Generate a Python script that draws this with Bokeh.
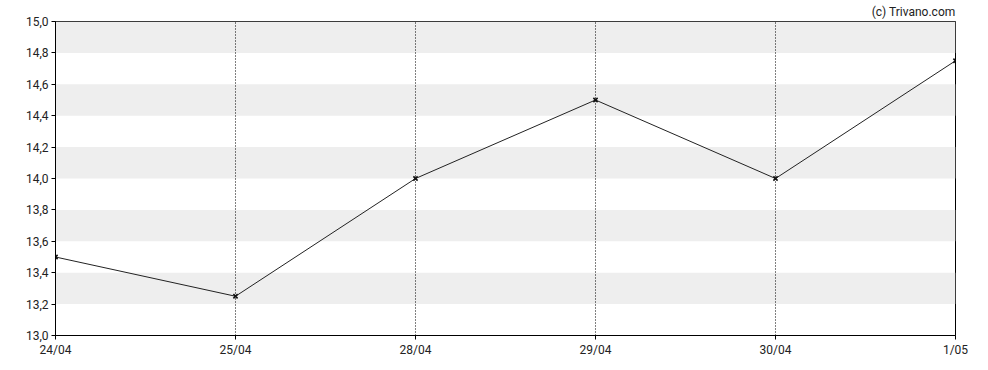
from bokeh.plotting import figure
from bokeh.models import FixedTicker, Range1d, Title
from bokeh.embed import file_html
from bokeh.resources import INLINE

categories = ["24/04", "25/04", "28/04", "29/04", "30/04", "1/05"]
values = [13.5, 13.25, 14.0, 14.5, 14.0, 14.75]
y_ticks = [13.0, 13.2, 13.4, 13.6, 13.8, 14.0, 14.2, 14.4, 14.6, 14.8, 15.0]
y_labels = ["13,0", "13,2", "13,4", "13,6", "13,8", "14,0", "14,2", "14,4", "14,6", "14,8", "15,0"]
credit = "(c) Trivano.com"

xs = list(range(len(categories)))

p = figure(width=988, height=370, output_backend="svg", toolbar_location=None,
           x_range=Range1d(0, len(categories) - 1), y_range=Range1d(13.0, 15.0),
           min_border_left=55, min_border_right=33, min_border_top=20, min_border_bottom=35)
p.background_fill_color = "white"
p.border_fill_color = "white"
p.outline_line_color = "black"
p.outline_line_width = 1

t = Title(text=credit, align="right", text_font="Roboto", text_font_size="12px",
          text_font_style="normal", text_color="#222222", standoff=5)
p.add_layout(t, "above")

# grids
p.ygrid.ticker = FixedTicker(ticks=y_ticks)
p.ygrid.grid_line_color = None
p.ygrid.band_fill_color = "#eeeeee"
p.ygrid.band_fill_alpha = 1.0
p.ygrid.level = "image"
p.xgrid.ticker = FixedTicker(ticks=xs)
p.xgrid.grid_line_color = "black"
p.xgrid.grid_line_dash = "1 2"
p.xgrid.grid_line_width = 1

# axes
for ax in (p.xaxis[0], p.yaxis[0]):
    ax.axis_line_color = "black"
    ax.major_tick_line_color = "black"
    ax.major_tick_out = 4
    ax.major_tick_in = 0
    ax.minor_tick_line_color = None
    ax.major_label_text_font = "Roboto"
    ax.major_label_text_font_size = "12px"
    ax.major_label_text_color = "#222222"
    ax.major_label_standoff = 3

p.xaxis.ticker = FixedTicker(ticks=xs)
p.xaxis.major_label_overrides = {i: c for i, c in zip(xs, categories)}
p.yaxis.ticker = FixedTicker(ticks=y_ticks)
p.yaxis.major_label_overrides = {t: l for t, l in zip(y_ticks, y_labels)}

p.line(xs, values, line_color="#222222", line_width=1)
p.scatter(xs, values, marker="x", size=6, line_color="#111111", line_width=1.6)

open("out.html", "w").write(file_html(p, INLINE))
